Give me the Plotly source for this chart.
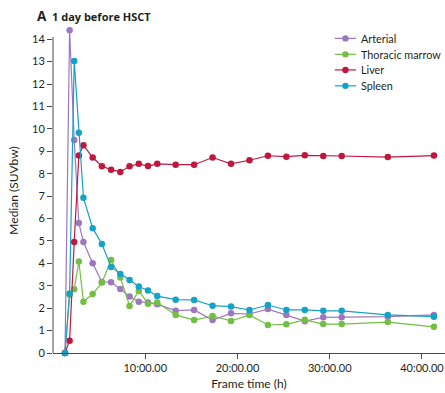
import plotly.graph_objects as go

# Frame times (hours after injection)
frame_time_h = [1.3, 1.8, 2.3, 2.8, 3.3, 4.3, 5.3, 6.3, 7.3, 8.3, 9.3, 10.3, 11.3,
                13.3, 15.3, 17.3, 19.3, 21.3, 23.3, 25.3, 27.3, 29.3, 31.3, 36.3, 41.3]

# Median SUVbw per region
arterial = [0, 14.4, 9.5, 5.8, 4.95, 4.0, 3.17, 3.16, 2.85, 2.52, 2.29, 2.25, 2.17,
            1.89, 1.92, 1.47, 1.77, 1.74, 1.96, 1.70, 1.42, 1.59, 1.59, 1.62, 1.70]
thoracic_marrow = [0, 2.6, 2.84, 4.08, 2.29, 2.63, 3.14, 4.15, 3.37, 2.10, 2.77, 2.2, 2.25,
                   1.70, 1.47, 1.65, 1.43, 1.70, 1.25, 1.28, 1.48, 1.29, 1.29, 1.38, 1.17]
liver = [0, 0.55, 4.95, 8.81, 9.27, 8.72, 8.33, 8.18, 8.08, 8.33, 8.44, 8.34, 8.44,
         8.4, 8.4, 8.72, 8.44, 8.6, 8.8, 8.76, 8.82, 8.79, 8.79, 8.74, 8.81]
spleen = [0, 2.66, 13.03, 9.83, 6.93, 5.57, 4.86, 3.84, 3.53, 3.26, 2.97, 2.79, 2.54,
          2.38, 2.37, 2.11, 2.07, 1.92, 2.14, 1.92, 1.92, 1.88, 1.88, 1.70, 1.62]

x_tick_vals = [10, 20, 30, 40]
x_tick_text = ["10:00.00", "20:00.00", "30:00.00", "40:00.00"]
y_tick_vals = list(range(0, 15))

series = [
    ("Arterial", arterial, "#9d78bf"),
    ("Thoracic marrow", thoracic_marrow, "#72bf44"),
    ("Liver", liver, "#c0173f"),
    ("Spleen", spleen, "#14a2c6"),
]

FONT = "Lato, 'Open Sans', sans-serif"
TEXT = "#231f20"
AXIS = "#4a4a4a"
Y_RANGE = [0, 14.5]
Y_AXIS_TOP = 14.1

fig = go.Figure()
for name, vals, color in series:
    fig.add_trace(go.Scatter(
        x=frame_time_h, y=vals, name=name, mode="lines+markers",
        line=dict(color=color, width=1.2),
        marker=dict(color=color, size=6.5),
        cliponaxis=False, showlegend=False,
    ))

shapes = [
    # vertical axis line stops just above the top tick
    dict(type="line", xref="paper", yref="y", x0=0, x1=0, y0=0, y1=Y_AXIS_TOP,
         line=dict(color=AXIS, width=1)),
]
annotations = [dict(
    text="<b><span style='font-size:13.5px'>A</span>  1 day before HSCT</b>",
    xref="paper", yref="paper", x=-0.047, y=1.038,
    xanchor="left", yanchor="middle", showarrow=False,
    font=dict(family="'Open Sans', sans-serif", size=11, color=TEXT),
)]

# legend key: short line with a dot, label to the right
legend_x0, legend_x1, legend_text_x = 0.719, 0.773, 0.781
legend_y = [0.968, 0.919, 0.871, 0.822]
for (name, _, color), ly in zip(series, legend_y):
    shapes.append(dict(type="line", xref="paper", yref="paper",
                       x0=legend_x0, x1=legend_x1, y0=ly, y1=ly,
                       line=dict(color=color, width=1.2)))
    shapes.append(dict(type="circle", xref="paper", yref="paper",
                       xsizemode="pixel", ysizemode="pixel",
                       xanchor=(legend_x0 + legend_x1) / 2, yanchor=ly,
                       x0=-3.2, x1=3.2, y0=-3.2, y1=3.2,
                       fillcolor=color, line=dict(width=0)))
    annotations.append(dict(text=name, xref="paper", yref="paper",
                            x=legend_text_x, y=ly, xanchor="left", yanchor="middle",
                            showarrow=False, font=dict(size=10.8, color=TEXT)))

fig.update_layout(
    width=445, height=393,
    margin=dict(l=53, r=0, t=28, b=40),
    paper_bgcolor="white", plot_bgcolor="white",
    font=dict(family=FONT, size=11, color=TEXT),
    showlegend=False,
    shapes=shapes,
    annotations=annotations,
)

fig.update_xaxes(
    range=[0, 42.5], tickvals=x_tick_vals, ticktext=x_tick_text,
    showgrid=False, zeroline=False, showline=True, linecolor=AXIS, linewidth=1,
    ticks="outside", ticklen=5, tickcolor=AXIS,
    tickfont=dict(size=11, color=TEXT),
    title=dict(text="Frame time (h)", font=dict(size=12, color=TEXT), standoff=6),
)
fig.update_yaxes(
    range=Y_RANGE, tickvals=y_tick_vals,
    showgrid=False, zeroline=False, showline=False,
    ticks="outside", ticklen=5, tickcolor=AXIS,
    tickfont=dict(size=11, color=TEXT),
    title=dict(text="Median (SUVbw)", font=dict(size=12, color=TEXT), standoff=10),
)

fig.write_html("out.html")
